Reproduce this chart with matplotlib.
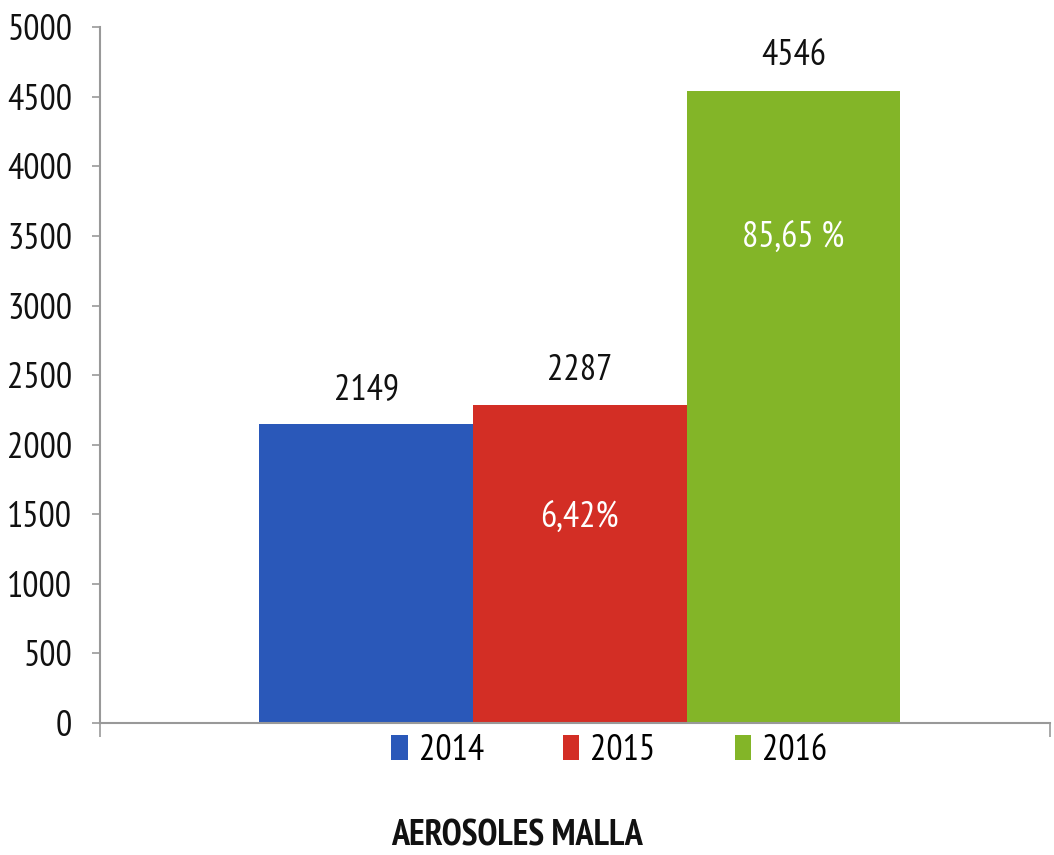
import matplotlib
matplotlib.use("Agg")
import matplotlib.pyplot as plt
from matplotlib.patches import Patch

years = ["2014", "2015", "2016"]
values = [2149, 2287, 4546]
pct_labels = ["", "6,42%", "85,65 %"]
pct_y = [0, 1470, 3480]
colors = ["#2A58B9", "#D32E25", "#83B528"]
title = "AEROSOLES MALLA"

plt.rcParams['font.family'] = ['PT Sans Narrow', 'DejaVu Sans']

fig = plt.figure(figsize=(10.54, 8.55), dpi=100)
ax = fig.add_axes([0.0949, 0.1544, 0.9011, 0.8136])

x = list(range(len(values)))
bars = ax.bar(x, values, width=1.0, color=colors, edgecolor='none')

for xi, v in zip(x, values):
    ax.annotate(str(v), (xi, v), xytext=(0, 13), textcoords='offset points',
                ha='center', va='bottom', fontsize=26, color='#111111')
for xi, lab, yy in zip(x, pct_labels, pct_y):
    if lab:
        ax.text(xi, yy, lab, ha='center', va='center', fontsize=26, color='white')

ax.set_ylim(0, 5000)
ax.set_yticks(range(0, 5001, 500))
ax.set_xlim(-1.245, 3.2)
ax.set_xticks([-1.245, 3.2])
ax.set_xticklabels([])
ax.tick_params(axis='y', labelsize=26, length=6, color='#999999', width=1.2, pad=14,
               labelcolor='#111111')
ax.tick_params(axis='x', length=10, color='#999999', width=1.2)

for s in ['top', 'right']:
    ax.spines[s].set_visible(False)
ax.spines['left'].set_color('#999999')
ax.spines['left'].set_linewidth(1.5)
ax.spines['bottom'].set_color('#999999')
ax.spines['bottom'].set_linewidth(1.5)

handles = [Patch(facecolor=c, edgecolor='none', label=y) for c, y in zip(colors, years)]
fig.legend(handles=handles, loc='center', bbox_to_anchor=(0.578, 0.122), ncol=3,
           frameon=False, fontsize=26, handlelength=0.45, handleheight=0.7,
           handletextpad=0.3, columnspacing=2.2)

fig.text(0.491, 0.003, title, ha='center', va='bottom', fontsize=26, fontweight='bold',
         color='#111111')

fig.savefig("out.png", dpi=100)
